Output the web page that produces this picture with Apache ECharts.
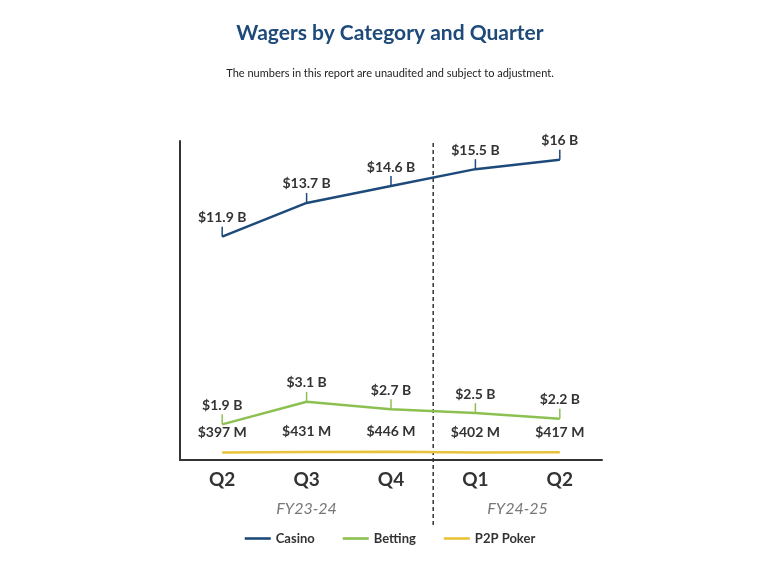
<!DOCTYPE html><html><head><meta charset="utf-8"><script src="https://cdn.jsdelivr.net/npm/echarts@6/dist/echarts.min.js"></script>
<style>body{margin:0}#c{width:780px;height:574px}</style></head><body><div id="c"></div><script>
const categories=['Q2','Q3','Q4','Q1','Q2'];
const casino=[11.9,13.7,14.6,15.5,16];
const casinoLabels=['$11.9 B','$13.7 B','$14.6 B','$15.5 B','$16 B'];
const betting=[1.9,3.1,2.7,2.5,2.2];
const bettingLabels=['$1.9 B','$3.1 B','$2.7 B','$2.5 B','$2.2 B'];
const poker=[0.397,0.431,0.446,0.402,0.417];
const pokerLabels=['$397 M','$431 M','$446 M','$402 M','$417 M'];
const fiscalYears=['FY23-24','FY24-25'];
const chart=echarts.init(document.getElementById('c'));
function ser(name,data,labels,color,tick){
 return {name,type:'line',data,color,symbol:'rect',symbolSize:tick?[1.5,10]:[0.1,0.1],symbolOffset:[0,-5],showSymbol:true,
 lineStyle:{width:2.5,color},itemStyle:{color},
 label:{show:true,position:'top',distance:tick?2:8,formatter:p=>labels[p.dataIndex],fontFamily:'Lato',fontWeight:'bold',fontSize:14,color:'#333'}};
}
chart.setOption({
 animation:false,
 title:{text:'Wagers by Category and Quarter',subtext:'The numbers in this report are unaudited and subject to adjustment.',left:'center',top:18,itemGap:24,
  textStyle:{fontFamily:'Lato',fontWeight:'bold',fontSize:21,color:'#1d4a7a'},subtextStyle:{fontFamily:'Lato',fontSize:11,color:'#222'}},
 legend:{bottom:24,left:'center',icon:'path://M0,0H10V1H0Z',itemWidth:26,itemHeight:3,itemGap:28,textStyle:{fontFamily:'Lato',fontSize:13,fontWeight:'bold',color:'#333'}},
 grid:{left:180,right:178,top:141,bottom:114},
 xAxis:{type:'category',data:categories,axisLine:{lineStyle:{color:'#333',width:2}},axisTick:{show:false},
  axisLabel:{fontFamily:'Lato',fontWeight:'bold',fontSize:19,color:'#333',margin:10}},
 yAxis:{type:'value',min:0,max:17,axisLine:{show:true,lineStyle:{color:'#333',width:2}},splitLine:{show:false},axisLabel:{show:false}},
 series:[ser('Casino',casino,casinoLabels,'#1d4a7a',true),ser('Betting',betting,bettingLabels,'#8cc152',true),ser('P2P Poker',poker,pokerLabels,'#e8c23a',false)]
});
const x3=chart.convertToPixel({xAxisIndex:0},3);
const x2=chart.convertToPixel({xAxisIndex:0},2);
const sep=(x2+x3)/2;
const fy1=chart.convertToPixel({xAxisIndex:0},1);
const fy2=(x3+chart.convertToPixel({xAxisIndex:0},4))/2;
chart.setOption({graphic:[
 {type:'line',shape:{x1:sep,y1:143,x2:sep,y2:525},style:{stroke:'#333',lineWidth:1.5,lineDash:[4,3]}},
 {type:'text',x:fy1,y:509,style:{text:fiscalYears[0],fontFamily:'Lato',fontStyle:'italic',fontSize:16,fill:'#777',align:'center',verticalAlign:'middle'}},
 {type:'text',x:fy2,y:509,style:{text:fiscalYears[1],fontFamily:'Lato',fontStyle:'italic',fontSize:16,fill:'#777',align:'center',verticalAlign:'middle'}}
]});
</script></body></html>
